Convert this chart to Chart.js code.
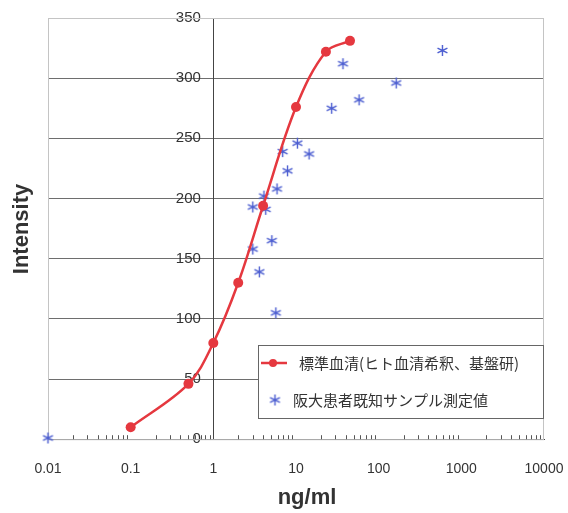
<!DOCTYPE html>
<html>
<head>
<meta charset="utf-8">
<script src="https://cdn.jsdelivr.net/npm/chart.js@4"></script>
<style>
  html, body { margin: 0; padding: 0; background: #fff; }
  #wrap { width: 568px; height: 513px; }
</style>
</head>
<body>
<div id="wrap"><canvas id="stdChart" width="568" height="513"></canvas></div>
<script>
// standard serum dilution series
const stdConc = [0.1, 0.5, 1, 2, 4, 10, 23, 45];
const stdIntensity = [10, 46, 80, 130, 194, 276, 322, 331];

// known patient samples
const sampleConc = [0.01, 3.6, 3.0, 5.7, 3.0, 5.1, 4.3, 4.1, 5.9, 7.9, 6.9, 14.4, 10.4, 27, 58, 37, 163, 590];
const sampleIntensity = [1, 139, 158, 105, 193, 165, 191, 202, 208, 223, 239, 237, 246, 275, 282, 312, 296, 323];

const xTicks = [0.01, 0.1, 1, 10, 100, 1000, 10000];
const yTicks = [0, 50, 100, 150, 200, 250, 300, 350];

const seriesNames = ['標準血清(ヒト血清希釈、基盤研)', '阪大患者既知サンプル測定値'];

const red = '#e5383f';
const blue = '#4a5cd0';

// asterisk marker like the excel one
function makeStar(size) {
  const c = document.createElement('canvas');
  c.width = size; c.height = size;
  const g = c.getContext('2d');
  const m = size / 2, r = size / 2 - 1;
  g.strokeStyle = blue;
  g.lineWidth = 1.4;
  g.beginPath();
  g.moveTo(m, m - r); g.lineTo(m, m + r);
  g.moveTo(m - r * 0.9, m - r * 0.45); g.lineTo(m + r * 0.9, m + r * 0.45);
  g.moveTo(m + r * 0.9, m - r * 0.45); g.lineTo(m - r * 0.9, m + r * 0.45);
  g.stroke();
  return c;
}
const star = makeStar(13);

const frame = {
  id: 'frame',
  beforeDatasetsDraw(chart) {
    const {ctx, chartArea: a} = chart;
    const xs = chart.scales.x;
    ctx.save();
    ctx.strokeStyle = '#c4c4c4';
    ctx.lineWidth = 1;
    ctx.strokeRect(a.left + 0.5, a.top + 0.5, a.right - a.left - 1, a.bottom - a.top);
    // minor ticks pointing inward
    ctx.strokeStyle = '#555';
    ctx.beginPath();
    for (let i = 0; i < xTicks.length - 1; i++) {
      for (let k = 2; k <= 9; k++) {
        const px = Math.round(xs.getPixelForValue(xTicks[i] * k)) + 0.5;
        ctx.moveTo(px, a.bottom);
        ctx.lineTo(px, a.bottom - 4);
      }
    }
    ctx.stroke();
    ctx.restore();
  },
  afterDraw(chart) {
    const {ctx} = chart;
    ctx.save();
    // legend box
    const lx = 258, ly = 345, lw = 285, lh = 73;
    ctx.fillStyle = '#fff';
    ctx.fillRect(lx, ly, lw, lh);
    ctx.strokeStyle = '#666';
    ctx.lineWidth = 1;
    ctx.strokeRect(lx + 0.5, ly + 0.5, lw, lh);
    ctx.strokeStyle = red;
    ctx.lineWidth = 2.5;
    ctx.beginPath();
    ctx.moveTo(261, 363); ctx.lineTo(287, 363);
    ctx.stroke();
    ctx.fillStyle = red;
    ctx.beginPath();
    ctx.arc(273, 363, 4, 0, Math.PI * 2);
    ctx.fill();
    ctx.drawImage(star, 275 - 6.5, 400 - 6.5);
    ctx.fillStyle = '#333';
    ctx.font = '15px "Noto Sans CJK JP", sans-serif';
    ctx.textBaseline = 'middle';
    ctx.textAlign = 'left';
    ctx.fillText(seriesNames[0], 299, 363);
    ctx.fillText(seriesNames[1], 293, 400);
    // axis titles
    ctx.fillStyle = '#333';
    ctx.font = 'bold 22px "Liberation Sans", Arial, sans-serif';
    ctx.textAlign = 'center';
    ctx.fillText('ng/ml', 307, 498);
    ctx.translate(22, 229);
    ctx.rotate(-Math.PI / 2);
    ctx.fillText('Intensity', 0, 0);
    ctx.restore();
  }
};

Chart.defaults.font.family = '"Liberation Sans", Arial, sans-serif';
Chart.defaults.color = '#333';

const ctx = document.getElementById('stdChart');
const data = {
  datasets: [{
    label: seriesNames[0],
    data: stdConc.map((x, i) => ({x: x, y: stdIntensity[i]})),
    borderColor: red,
    backgroundColor: red,
    borderWidth: 2.5,
    pointRadius: 5,
    pointBackgroundColor: red,
    pointBorderWidth: 0,
    tension: 0.35,
    showLine: true,
    order: 1
  }, {
    label: seriesNames[1],
    data: sampleConc.map((x, i) => ({x: x, y: sampleIntensity[i]})),
    showLine: false,
    pointStyle: star,
    borderColor: blue,
    backgroundColor: blue,
    clip: false,
    order: 2
  }]
};

const config = {
  type: 'scatter',
  data: data,
  options: {
    responsive: false,
    animation: false,
    layout: { padding: { left: 48, right: 24, top: 18, bottom: 21 } },
    plugins: { legend: { display: false }, tooltip: { enabled: false } },
    scales: {
      x: {
        type: 'logarithmic',
        position: 'bottom',
        min: 0.01,
        max: 10000,
        afterBuildTicks: (s) => { s.ticks = xTicks.map(v => ({value: v})); },
        afterFit: (s) => { s.paddingLeft = 0; s.paddingRight = 0; },
        ticks: {
          autoSkip: false,
          maxRotation: 0,
          padding: 14,
          font: { size: 14 },
          callback: (v) => String(v)
        },
        grid: { display: false },
        border: { display: true, color: '#444', width: 1 }
      },
      y: {
        position: { x: 1 },
        min: 0,
        max: 350,
        afterBuildTicks: (s) => { s.ticks = yTicks.map(v => ({value: v})); },
        afterFit: (s) => { s.width = 0; s.paddingTop = 0; s.paddingBottom = 0; },
        ticks: { font: { size: 15 }, callback: (v) => v + '   ' },
        grid: {
          drawTicks: false,
          color: (c) => c.tick && c.tick.value === 350 ? '#c4c4c4' : '#6e6e6e'
        },
        border: { display: true, color: '#444', width: 1 }
      }
    }
  },
  plugins: [frame]
};

const stdChart = new Chart(ctx, config);
</script>
</body>
</html>
